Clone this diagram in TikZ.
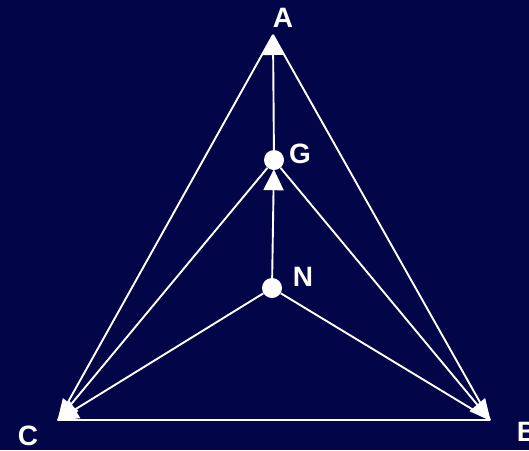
\documentclass[tikz,border=0pt]{standalone}
\usepackage{fontspec}
\setmainfont{Liberation Sans}
\usetikzlibrary{arrows.meta}
\definecolor{navy}{RGB}{2,6,72}
\begin{document}
\begin{tikzpicture}[x=1pt,y=-1pt,
  edge/.style={draw=white,line width=1.9pt},
  arr/.style={edge,-{Triangle[length=21pt,width=20pt]},shorten >=-1pt},
  dot/.style={circle,fill=white,inner sep=0pt,minimum size=20pt},
  lbl/.style={text=white,font=\fontsize{28}{28}\selectfont\bfseries,inner sep=0pt}]
\fill[navy] (0,0) rectangle (529,450);
\useasboundingbox (0,0) rectangle (529,450);
\coordinate (A) at (273,35);
\coordinate (B) at (490,420);
\coordinate (C) at (58,420);
\node[dot] (G) at (274,160) {};
\node[dot] (N) at (272,288) {};
\node[lbl] (la) at (283,18) {A};
\node[lbl] (lg) at (300,154) {G};
\node[lbl] (ln) at (303,277) {N};
\node[lbl] (lc) at (28,436) {C};
\node[lbl] (lb) at (527,432) {B};
\draw[edge] (A) -- (C);
\draw[edge] (A) -- (B);
\draw[edge] (C) -- (B);
\draw[arr] (G) -- (A);
\draw[arr] (N) -- (G);
\draw[arr] (G) -- (C);
\draw[arr] (N) -- (C);
\draw[arr] (G) -- (B);
\draw[edge] (N) -- (B);
\end{tikzpicture}
\end{document}
